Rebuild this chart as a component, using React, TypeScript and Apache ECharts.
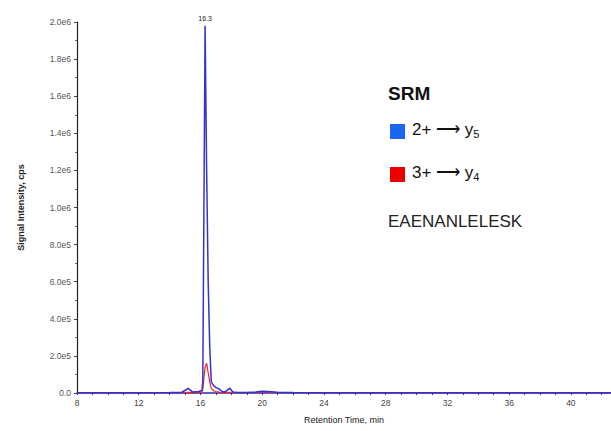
import React, { useEffect, useRef } from "react";
import * as echarts from "echarts";

const times = [8, 10, 12, 14, 14.8, 15.2, 15.5, 15.9, 16.1, 16.15, 16.2, 16.3, 16.4, 16.5, 16.6, 16.7, 16.85, 17.0, 17.2, 17.4, 17.6, 17.9, 18.1, 18.4, 19.0, 19.6, 20.0, 20.4, 21.0, 22, 24, 28, 32, 36, 40, 42.6];
const srm2y5 = [2000, 2000, 2000, 3000, 4000, 25000, 5000, 8000, 15000, 60000, 700000, 1980000, 1200000, 600000, 250000, 60000, 40000, 30000, 22000, 8000, 6000, 26000, 5000, 3000, 3000, 5000, 10000, 8000, 4000, 3000, 2000, 2000, 2000, 2000, 2000, 2000];
const srm3y4 = [1000, 1000, 1000, 1000, 1500, 3000, 2000, 3000, 6000, 20000, 60000, 140000, 160000, 110000, 60000, 25000, 12000, 8000, 5000, 3000, 2000, 4000, 2000, 1500, 1500, 3000, 6000, 4000, 2000, 1500, 1000, 1000, 1000, 1000, 1000, 1000];
const peakLabel = "16.3";
const peakIndex = 11;

const fmtY = (v: number) => {
  if (v === 0) return "0.0";
  const e = Math.floor(Math.log10(v) + 1e-9);
  const m = v / Math.pow(10, e);
  return m.toFixed(1) + "e" + e;
};

export default function App() {
  const ref = useRef<HTMLDivElement>(null);
  useEffect(() => {
    const chart = echarts.init(ref.current!, null, { renderer: "svg" });
    const font = "Liberation Sans";
    chart.setOption({
      animation: false,
      backgroundColor: "#fff",
      textStyle: { fontFamily: font },
      grid: { left: 77, right: 0, top: 22, bottom: 38 },
      xAxis: {
        type: "value",
        min: 8,
        max: 42.6,
        interval: 4,
        name: "Retention Time, min",
        nameLocation: "middle",
        nameGap: 22,
        nameTextStyle: { fontSize: 9, color: "#222", fontFamily: font },
        axisLine: { show: true, lineStyle: { color: "#2a2ab0", width: 1.5 } },
        axisTick: { show: true, length: 2, lineStyle: { color: "#2a2ab0" } },
        minorTick: { show: true, splitNumber: 4, length: 2, lineStyle: { color: "#2a2ab0" } },
        axisLabel: { fontSize: 8.5, color: "#444", margin: 5, showMaxLabel: false },
        splitLine: { show: false },
      },
      yAxis: {
        type: "value",
        min: 0,
        max: 2000000,
        interval: 200000,
        name: "Signal Intensity, cps",
        nameLocation: "middle",
        nameGap: 52,
        nameTextStyle: { fontSize: 9, color: "#222", fontFamily: font, fontWeight: "bold" },
        axisLine: { show: true, lineStyle: { color: "#222", width: 1.2 } },
        axisTick: { show: true, length: 3, lineStyle: { color: "#444" } },
        minorTick: { show: true, splitNumber: 2, length: 2, lineStyle: { color: "#666" } },
        axisLabel: { fontSize: 8.5, color: "#555", margin: 6, formatter: fmtY },
        splitLine: { show: false },
      },
      series: [
        {
          type: "line",
          name: "3+ → y4",
          data: times.map((t, i) => [t, srm3y4[i]]),
          showSymbol: false,
          symbol: "none",
          lineStyle: { color: "#ff2020", width: 1.2 },
          z: 2,
        },
        {
          type: "line",
          name: "2+ → y5",
          data: times.map((t, i) => [t, srm2y5[i]]),
          showSymbol: false,
          symbol: "none",
          lineStyle: { color: "#3333cc", width: 1.5 },
          z: 3,
          markPoint: {
            symbol: "circle",
            symbolSize: 0,
            data: [{ coord: [times[peakIndex], srm2y5[peakIndex]] }],
            label: { show: true, formatter: peakLabel, position: "top", fontSize: 7, color: "#222", fontFamily: font, distance: 4 },
          },
        },
      ],
      graphic: [
        { type: "text", left: 388, top: 84, style: { text: "SRM", fontSize: 19, fontWeight: "bold", fill: "#111", fontFamily: font } },
        { type: "rect", shape: { x: 390, y: 124, width: 15, height: 15 }, style: { fill: "#1a66f0" } },
        {
          type: "text",
          left: 412,
          top: 121,
          style: {
            text: "2+ ⟶ y{s|5}",
            fontSize: 17,
            fill: "#111",
            fontFamily: font,
            rich: { s: { fontSize: 11, fill: "#111", fontFamily: font, padding: [8, 0, 0, 0] } },
          },
        },
        { type: "rect", shape: { x: 390, y: 167, width: 15, height: 15 }, style: { fill: "#ee0000" } },
        {
          type: "text",
          left: 412,
          top: 164,
          style: {
            text: "3+ ⟶ y{s|4}",
            fontSize: 17,
            fill: "#111",
            fontFamily: font,
            rich: { s: { fontSize: 11, fill: "#111", fontFamily: font, padding: [8, 0, 0, 0] } },
          },
        },
        { type: "text", left: 388, top: 213, style: { text: "EAENANLELESK", fontSize: 17, fill: "#222", fontFamily: font } },
      ],
    });
    return () => chart.dispose();
  }, []);
  return <div ref={ref} style={{ width: 611, height: 431, position: "absolute", left: 0, top: 0 }} />;
}
